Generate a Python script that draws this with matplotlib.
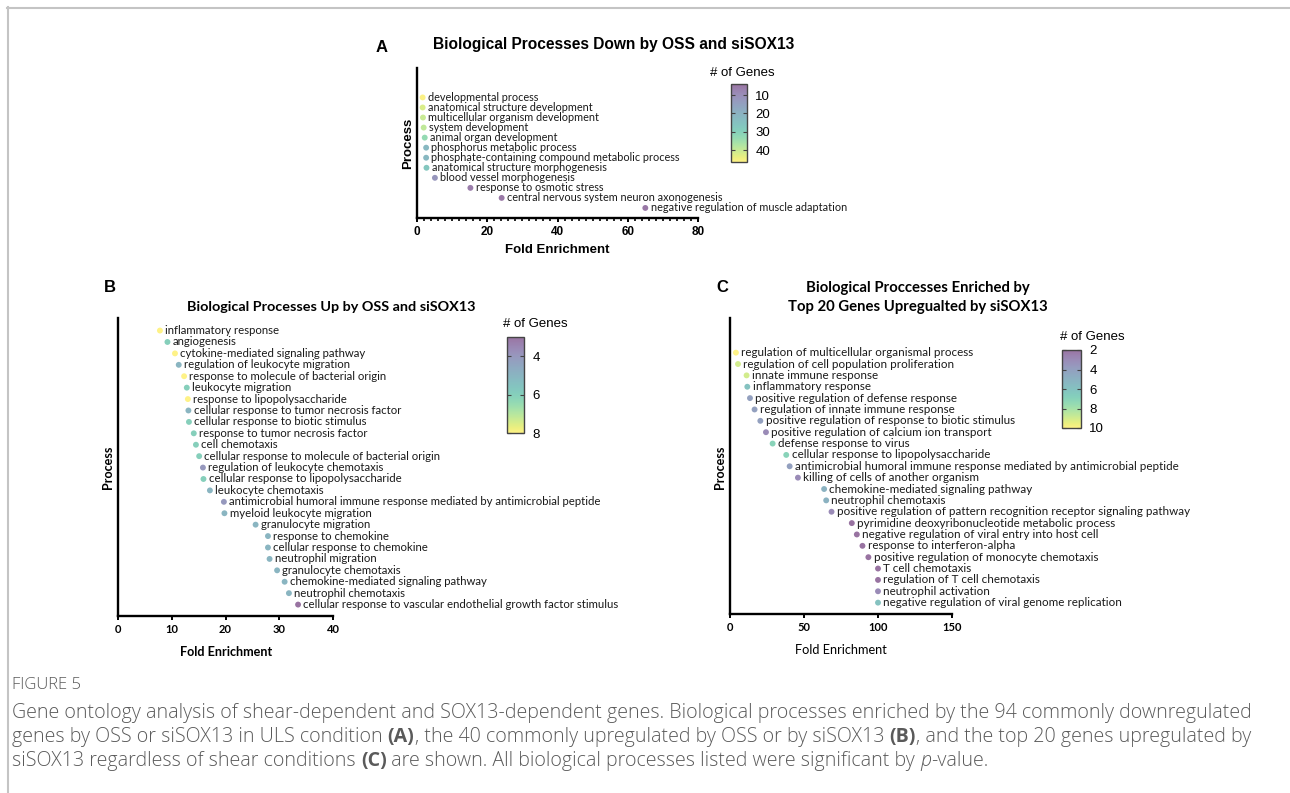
import matplotlib
matplotlib.use("Agg")
import matplotlib.pyplot as plt
import numpy as np
from matplotlib.colors import ListedColormap, Normalize
from matplotlib.cm import ScalarMappable
from matplotlib.lines import Line2D

# ---------------- data ----------------
labels_A = ["developmental process", "anatomical structure development",
            "multicellular organism development", "system development",
            "animal organ development", "phosphorus metabolic process",
            "phosphate-containing compound metabolic process",
            "anatomical structure morphogenesis", "blood vessel morphogenesis",
            "response to osmotic stress", "central nervous system neuron axonogenesis",
            "negative regulation of muscle adaptation"]
fe_A = [1.6, 1.6, 1.7, 1.9, 2.2, 2.6, 2.6, 2.7, 5.1, 15.2, 24.1, 65.0]
genes_A = [46, 42, 40, 39, 33, 22, 22, 27, 12, 6, 5, 5]

labels_B = ["inflammatory response", "angiogenesis", "cytokine-mediated signaling pathway",
            "regulation of leukocyte migration", "response to molecule of bacterial origin",
            "leukocyte migration", "response to lipopolysaccharide",
            "cellular response to tumor necrosis factor", "cellular response to biotic stimulus",
            "response to tumor necrosis factor", "cell chemotaxis",
            "cellular response to molecule of bacterial origin",
            "regulation of leukocyte chemotaxis", "cellular response to lipopolysaccharide",
            "leukocyte chemotaxis",
            "antimicrobial humoral immune response mediated by antimicrobial peptide",
            "myeloid leukocyte migration", "granulocyte migration", "response to chemokine",
            "cellular response to chemokine", "neutrophil migration", "granulocyte chemotaxis",
            "chemokine-mediated signaling pathway", "neutrophil chemotaxis",
            "cellular response to vascular endothelial growth factor stimulus"]
fe_B = [7.8, 9.2, 10.6, 11.3, 12.3, 12.8, 13.0, 13.1, 13.2, 14.1, 14.5, 15.1, 15.8,
        15.9, 17.1, 19.7, 19.8, 25.6, 27.9, 27.9, 28.2, 29.6, 31.0, 31.8, 33.5]
genes_B = [8, 6, 8, 5, 8, 6, 8, 5, 6, 6, 6, 6, 4, 6, 5, 4, 5, 5, 5, 5, 5, 5, 5, 5, 3]

labels_C = ["regulation of multicellular organismal process",
            "regulation of cell population proliferation", "innate immune response",
            "inflammatory response", "positive regulation of defense response",
            "regulation of innate immune response",
            "positive regulation of response to biotic stimulus",
            "positive regulation of calcium ion transport", "defense response to virus",
            "cellular response to lipopolysaccharide",
            "antimicrobial humoral immune response mediated by antimicrobial peptide",
            "killing of cells of another organism", "chemokine-mediated signaling pathway",
            "neutrophil chemotaxis",
            "positive regulation of pattern recognition receptor signaling pathway",
            "pyrimidine deoxyribonucleotide metabolic process",
            "negative regulation of viral entry into host cell",
            "response to interferon-alpha", "positive regulation of monocyte chemotaxis",
            "T cell chemotaxis", "regulation of T cell chemotaxis", "neutrophil activation",
            "negative regulation of viral genome replication"]
fe_C = [4.0, 5.4, 11.2, 11.7, 13.5, 16.6, 20.5, 24.3, 28.8, 38.0, 40.3, 45.9, 63.6,
        65.0, 68.6, 82.3, 85.7, 89.5, 93.5, 100.0, 100.0, 100.0, 100.0]
genes_C = [10, 9, 9, 6, 4, 4, 4, 3, 7, 7, 4, 3, 5, 5, 3, 2, 2, 2, 2, 2, 2, 3, 6]

cbar_ticks_A = [10, 20, 30, 40]
cbar_ticks_B = [4, 6, 8]
cbar_ticks_C = [2, 4, 6, 8, 10]

# ---------------- setup ----------------
W, H = 1290, 793
fig = plt.figure(figsize=(W / 100, H / 100), dpi=100)

ARIAL = "Liberation Sans"
CALI = "Lato"

def px_axes(l, t, r, b):
    return fig.add_axes([l / W, 1 - b / H, (r - l) / W, (b - t) / H])

def ftext(x, y, s, **kw):
    return fig.text(x / W, 1 - y / H, s, **kw)

base = plt.get_cmap("viridis")(np.linspace(0, 1, 256))
alpha = 0.55
soft = base.copy()
soft[:, :3] = base[:, :3] * alpha + (1 - alpha)
cmap = ListedColormap(soft)


def dot_panel(ax, labels, fe, genes, vmin, vmax, xmax, xticks, top_pad,
              label_fs, tick_font, tick_fs, minor=None):
    n = len(labels)
    y = np.arange(n)
    ax.scatter(fe, y, c=genes, cmap=cmap, vmin=vmin, vmax=vmax, s=18,
               linewidths=0, zorder=3, clip_on=False)
    for xi, yi, lab in zip(fe, y, labels):
        ax.annotate(lab, (xi, yi), xytext=(3.8, 0), textcoords="offset points",
                    va="center", ha="left", fontsize=label_fs, family=CALI,
                    color="#1a1a1a", annotation_clip=False)
    ax.set_xlim(0, xmax)
    ax.set_ylim(n, -top_pad)
    ax.spines[["top", "right"]].set_visible(False)
    for s in ["left", "bottom"]:
        ax.spines[s].set_linewidth(1.7)
    ax.set_yticks([])
    ax.set_xticks(xticks)
    ax.set_xticklabels([str(t) for t in xticks], fontsize=tick_fs,
                       family=tick_font, fontweight="bold")
    ax.tick_params(axis="x", direction="out", length=3, width=1.4, pad=3)
    if minor is not None:
        ax.set_xticks(minor, minor=True)
        ax.tick_params(axis="x", which="minor", direction="out", length=2, width=1.2)
    ax.patch.set_alpha(0)


def cbar(l, t, r, b, vmin, vmax, ticks, label_xy):
    cax = px_axes(l, t, r, b)
    cb = fig.colorbar(ScalarMappable(Normalize(vmin, vmax), cmap), cax=cax)
    cax.set_ylim(vmax, vmin)
    cb.set_ticks(ticks)
    cb.ax.set_yticklabels([str(t) for t in ticks], family=ARIAL, fontsize=9.5)
    cb.ax.tick_params(direction="in", length=3, width=0.8, left=True, right=True,
                      labelleft=False, labelright=True, pad=6, color="#444444")
    cb.outline.set_linewidth(1.0)
    cb.outline.set_edgecolor("#444444")
    ftext(label_xy[0], label_xy[1], "# of Genes", ha="center", va="center",
          family=ARIAL, fontsize=9.5)

# ---------------- panel A ----------------
axA = px_axes(417, 68, 698, 218)
dot_panel(axA, labels_A, fe_A, genes_A, 4, 46.4, 80, [0, 20, 40, 60, 80], 2.93,
          7.85, ARIAL, 8.5, minor=np.arange(0, 81, 2))
cbar(731, 84, 747, 162, 4, 46.4, cbar_ticks_A, (742, 73))
ftext(382, 47, "A", ha="center", va="center", family=ARIAL, fontweight="bold", fontsize=12)
ftext(614, 45, "Biological Processes Down by OSS and siSOX13", ha="center", va="center",
      family=ARIAL, fontweight="bold", fontsize=11.2)
ftext(557, 250, "Fold Enrichment", ha="center", va="center", family=ARIAL,
      fontweight="bold", fontsize=9.5)
ftext(408, 143, "Process", ha="center", va="center", rotation=90, family=ARIAL,
      fontweight="bold", fontsize=9.5)

# ---------------- panel B ----------------
axB = px_axes(118, 318, 333, 616)
dot_panel(axB, labels_B, fe_B, genes_B, 3, 8, 40, [0, 10, 20, 30, 40], 1.1,
          8.2, CALI, 8.0)
cbar(507, 337, 524, 433, 3, 8, cbar_ticks_B, (535, 324))
ftext(110, 288, "B", ha="center", va="center", family=ARIAL, fontweight="bold", fontsize=12)
ftext(331, 307, "Biological Processes Up by OSS and siSOX13", ha="center", va="center",
      family=CALI, fontweight="bold", fontsize=10.4)
ftext(226, 652, "Fold Enrichment", ha="center", va="center", family=CALI,
      fontweight="bold", fontsize=9.1)
ftext(108, 467, "Process", ha="center", va="center", rotation=90, family=CALI,
      fontweight="bold", fontsize=9.1)

# ---------------- panel C ----------------
axC = px_axes(730, 318, 952, 614)
dot_panel(axC, labels_C, fe_C, genes_C, 2, 10, 150, [0, 50, 100, 150], 3.05,
          8.4, CALI, 8.0)
cbar(1062, 350, 1081, 428, 2, 10, cbar_ticks_C, (1092, 337))
ftext(722, 288, "C", ha="center", va="center", family=ARIAL, fontweight="bold", fontsize=12)
ftext(918, 288, "Biological Proccesses Enriched by", ha="center", va="center",
      family=CALI, fontweight="bold", fontsize=10.7)
ftext(918, 307, "Top 20 Genes Upregualted by siSOX13", ha="center", va="center",
      family=CALI, fontweight="bold", fontsize=10.7)
ftext(841, 650, "Fold Enrichment", ha="center", va="center", family=CALI, fontsize=9.2)
ftext(720, 467, "Process", ha="center", va="center", rotation=90, family=CALI,
      fontweight="bold", fontsize=9.1)

# ---------------- frame ----------------
fig.add_artist(Line2D([7 / W, 1], [1 - 7.5 / H, 1 - 7.5 / H], color="#c4c4c4", lw=1.5,
                      transform=fig.transFigure))
fig.add_artist(Line2D([7.5 / W, 7.5 / W], [0, 1 - 7 / H], color="#c4c4c4", lw=1.5,
                      transform=fig.transFigure))

# ---------------- caption ----------------
CAP = "Open Sans"
CAPC = "#5a5a5a"
ftext(12, 685, "FIGURE 5", ha="left", va="center", family=CAP, fontsize=12, color=CAPC,
      fontweight="light")

renderer = fig.canvas.get_renderer()

def width_px(s, kw):
    t1 = fig.text(0, 0, s + "|", **kw)
    t2 = fig.text(0, 0, "|", **kw)
    w = t1.get_window_extent(renderer).width - t2.get_window_extent(renderer).width
    t1.remove(); t2.remove()
    return w

def runs(x, y, parts, fs=14.1):
    common = dict(family=CAP, fontsize=fs, color=CAPC, va="baseline", ha="left",
                  fontweight="light")
    for s, extra in parts:
        kw = {**common, **extra}
        ftext(x, y, s, **kw)
        x += width_px(s, kw)

B_ = {"fontweight": "bold"}
I_ = {"style": "italic"}
runs(12, 718, [("Gene ontology analysis of shear-dependent and SOX13-dependent genes. "
                "Biological processes enriched by the 94 commonly downregulated", {})])
runs(12, 742, [("genes by OSS or siSOX13 in ULS condition ", {}), ("(A)", B_),
               (", the 40 commonly upregulated by OSS or by siSOX13 ", {}), ("(B)", B_),
               (", and the top 20 genes upregulated by", {})])
runs(12, 766, [("siSOX13 regardless of shear conditions ", {}), ("(C)", B_),
               (" are shown. All biological processes listed were significant by ", {}),
               ("p", I_), ("-value.", {})])

fig.savefig("out.png", dpi=100)
